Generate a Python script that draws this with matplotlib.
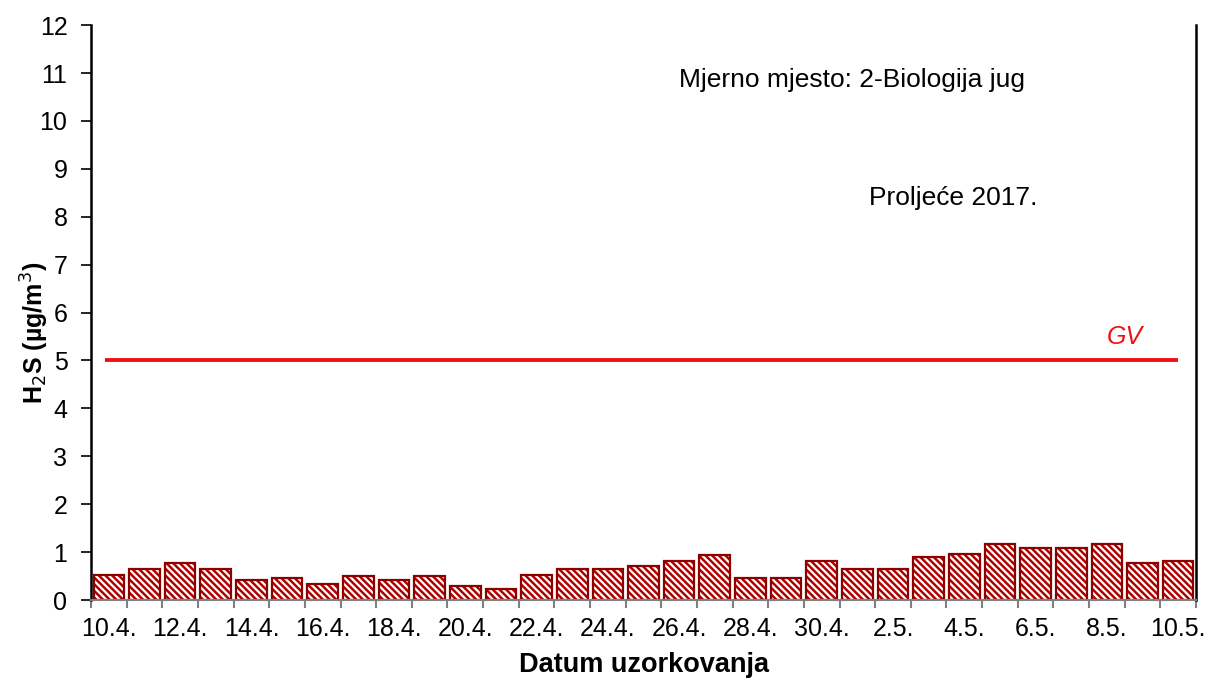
import numpy as np
import matplotlib.pyplot as plt

plt.rcParams['font.family'] = ['Liberation Sans', 'DejaVu Sans']
plt.rcParams['hatch.linewidth'] = 1.6

# sampling dates and H2S concentration (ug/m3)
dates = ['10.4.', '11.4.', '12.4.', '13.4.', '14.4.', '15.4.', '16.4.', '17.4.',
         '18.4.', '19.4.', '20.4.', '21.4.', '22.4.', '23.4.', '24.4.', '25.4.',
         '26.4.', '27.4.', '28.4.', '29.4.', '30.4.', '1.5.', '2.5.', '3.5.',
         '4.5.', '5.5.', '6.5.', '7.5.', '8.5.', '9.5.', '10.5.']
h2s = [0.52, 0.64, 0.77, 0.64, 0.41, 0.45, 0.33, 0.50, 0.41, 0.50, 0.29,
       0.24, 0.52, 0.64, 0.64, 0.72, 0.81, 0.94, 0.45, 0.45, 0.81, 0.64,
       0.64, 0.90, 0.97, 1.16, 1.08, 1.08, 1.16, 0.77, 0.81]
gv = 5
yticks = list(range(0, 13))

x = np.arange(len(dates))

fig = plt.figure(figsize=(12.06, 6.79), dpi=100)
ax = fig.add_axes([0.0755, 0.1163, 0.9162, 0.8467])

# hatched fill, then outline
ax.bar(x, h2s, width=0.86, color='#b00000', edgecolor='white', hatch='\\\\\\\\\\', linewidth=0)
ax.bar(x, h2s, width=0.86, fill=False, edgecolor='#8c0000', linewidth=1.6)

ax.hlines(gv, -0.1, 30.0, color='#ee1111', linewidth=2.8)
ax.text(28.5, gv + 0.25, 'GV', color='#ee1111', fontsize=18, fontstyle='italic',
        ha='center', va='bottom')

ax.text(0.689, 0.905, 'Mjerno mjesto: 2-Biologija jug', transform=ax.transAxes,
        fontsize=19, ha='center', va='center')
ax.text(0.78, 0.7, 'Proljeće 2017.', transform=ax.transAxes,
        fontsize=19, ha='center', va='center')

ax.set_xlim(-0.5, len(dates) - 0.5)
ax.set_ylim(0, 12)
ax.set_yticks(yticks)
ax.tick_params(axis='y', labelsize=18, length=7, width=1.2, direction='out', pad=10)

ax.set_xticks(x[::2])
ax.set_xticklabels(dates[::2], fontsize=18)
ax.set_xticks(np.arange(-0.5, len(dates)), minor=True)
ax.tick_params(axis='x', which='major', length=0, pad=12)
ax.tick_params(axis='x', which='minor', length=6, width=1.5, color='#808080')

ax.spines['top'].set_visible(False)
ax.spines['bottom'].set_color('#808080')
ax.spines['bottom'].set_linewidth(1.5)
ax.spines['left'].set_linewidth(1.8)
ax.spines['right'].set_linewidth(1.8)

ax.set_xlabel('Datum uzorkovanja', fontsize=19.5, fontweight='bold', labelpad=8)
ax.set_ylabel('H$_2$S (µg/m$^3$)', fontsize=18, fontweight='bold')
ax.yaxis.set_label_coords(-0.036, 0.465)

fig.savefig('out.png', dpi=100)
